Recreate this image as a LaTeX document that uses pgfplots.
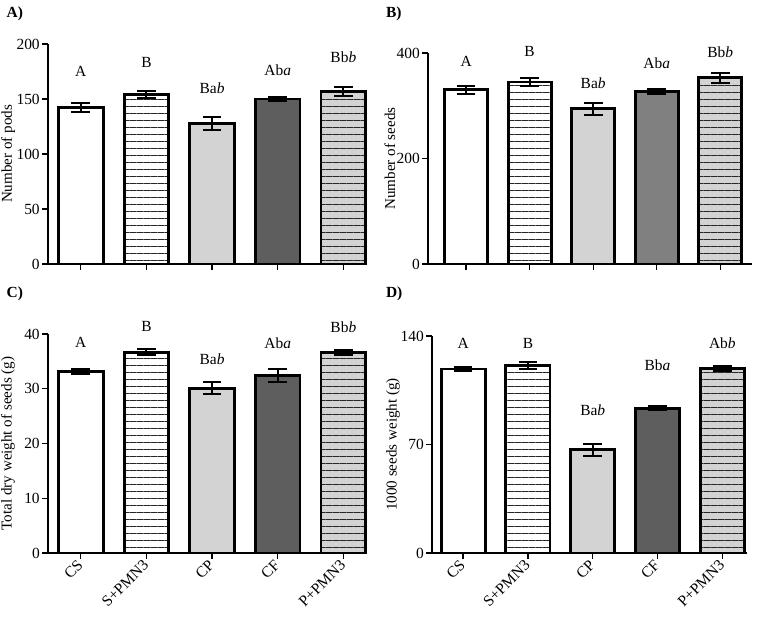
\documentclass[border=0pt]{standalone}
\usepackage{pgfplots}
\pgfplotsset{compat=1.18}
\usepackage{fontspec}
\setmainfont{Liberation Serif}
\usetikzlibrary{patterns.meta}
\definecolor{lg}{HTML}{D3D3D3}
\definecolor{dgA}{HTML}{5E5E5E}
\definecolor{dgB}{HTML}{808080}
\pgfplotsset{
  panel/.style={
    scale only axis, anchor=south west, clip=false,
    ymin=0, axis x line=bottom, axis y line=left,
    axis line style={-, line width=1pt},
    tick style={black, line width=1pt},
    major tick length=4.5pt, tick align=outside,
    xtick={0,1,2,3,4}, xticklabels={},
    /pgf/number format/assume math mode=true,
    ticklabel style={font=\fontsize{11.6}{13}\selectfont},
    yticklabel style={inner sep=1.5pt},
    label style={font=\fontsize{11.3}{13}\selectfont},
    ylabel style={anchor=center},
    xticklabel style={rotate=45, anchor=east, inner sep=2pt, yshift=-1.5pt},
    ybar, bar width=0.68,
  },
  mybar/.style={bar shift=0pt, draw=black, line width=2.2pt,
    /pgfplots/error bars/y dir=both, /pgfplots/error bars/y explicit,
    /pgfplots/error bars/error bar style={line width=1.5pt, black},
    /pgfplots/error bars/error mark options={rotate=90, line width=1.5pt, mark size=7pt, black}},
  hl/.style={postaction={pattern={Lines[angle=0,distance=5.25pt,line width=0.7pt]}, pattern color=black!85}},
}
\begin{document}
\begin{tikzpicture}[font=\fontsize{11.6}{13}\selectfont]
\useasboundingbox (0,0) rectangle (567.75pt,-462.75pt);
% Panel labels
\node[anchor=west, font=\fontsize{11.6}{13}\selectfont\bfseries] at (1.5pt,-10pt) {A)};
\node[anchor=west, font=\fontsize{11.6}{13}\selectfont\bfseries] at (286pt,-10pt) {B)};
\node[anchor=west, font=\fontsize{11.6}{13}\selectfont\bfseries] at (1.5pt,-220pt) {C)};
\node[anchor=west, font=\fontsize{11.6}{13}\selectfont\bfseries] at (286pt,-220pt) {D)};

% Panel A
\begin{axis}[panel, at={(36pt,-198pt)}, width=237.75pt, height=165pt,
  xmin=-0.5, xmax=4.33, ymax=200, ytick={0,50,100,150,200},
  ylabel={Number of pods}, ylabel style={at={(axis description cs:-0.126,0.5)}}]
\addplot[mybar, fill=white] coordinates {(0,142) +- (0,4)};
\addplot[mybar, fill=white, hl] coordinates {(1,154) +- (0,3)};
\addplot[mybar, fill=lg] coordinates {(2,128) +- (0,6)};
\addplot[mybar, fill=dgA] coordinates {(3,150) +- (0,2)};
\addplot[mybar, fill=lg, hl] coordinates {(4,157) +- (0,4)};
\node at (axis cs:0,175.5) {A};
\node at (axis cs:1,183) {B};
\node at (axis cs:2,160) {Ba\textit{b}};
\node at (axis cs:3,176.4) {Ab\textit{a}};
\node at (axis cs:4,188) {Bb\textit{b}};
\end{axis}

% Panel B
\begin{axis}[panel, at={(321pt,-198pt)}, width=243pt, height=158.25pt,
  xmin=-0.6, xmax=4.5, ymax=400, ytick={0,200,400},
  ylabel={Number of seeds}, ylabel style={at={(axis description cs:-0.118,0.5)}}]
\addplot[mybar, fill=white] coordinates {(0,330) +- (0,8)};
\addplot[mybar, fill=white, hl] coordinates {(1,345) +- (0,7)};
\addplot[mybar, fill=lg] coordinates {(2,294) +- (0,12)};
\addplot[mybar, fill=dgB] coordinates {(3,327) +- (0,4)};
\addplot[mybar, fill=lg, hl] coordinates {(4,353) +- (0,9)};
\node at (axis cs:0,385) {A};
\node at (axis cs:1,402) {B};
\node at (axis cs:2,343) {Ba\textit{b}};
\node at (axis cs:3,381) {Ab\textit{a}};
\node at (axis cs:4,402) {Bb\textit{b}};
\end{axis}

% Panel C
\begin{axis}[panel, at={(36pt,-414.75pt)}, width=237.75pt, height=164.25pt,
  xmin=-0.5, xmax=4.33, ymax=40, ytick={0,10,20,30,40},
  xticklabels={CS,S+PMN3,CP,CF,P+PMN3},
  ylabel={Total dry weight of seeds (g)}, ylabel style={at={(axis description cs:-0.126,0.5)}}]
\addplot[mybar, fill=white] coordinates {(0,33.2) +- (0,0.5)};
\addplot[mybar, fill=white, hl] coordinates {(1,36.7) +- (0,0.5)};
\addplot[mybar, fill=lg] coordinates {(2,30.1) +- (0,1.1)};
\addplot[mybar, fill=dgA] coordinates {(3,32.5) +- (0,1.2)};
\addplot[mybar, fill=lg, hl] coordinates {(4,36.6) +- (0,0.5)};
\node at (axis cs:0,38.4) {A};
\node at (axis cs:1,41.3) {B};
\node at (axis cs:2,35.4) {Ba\textit{b}};
\node at (axis cs:3,38.4) {Ab\textit{a}};
\node at (axis cs:4,41.3) {Bb\textit{b}};
\end{axis}

% Panel D
\begin{axis}[panel, at={(324pt,-414.75pt)}, width=236.25pt, height=162.75pt,
  xmin=-0.48, xmax=4.38, ymax=140, ytick={0,70,140},
  xticklabels={CS,S+PMN3,CP,CF,P+PMN3},
  ylabel={1000 seeds weight (g)}, ylabel style={at={(axis description cs:-0.124,0.5)}}]
\addplot[mybar, fill=white] coordinates {(0,118.7) +- (0,1.5)};
\addplot[mybar, fill=white, hl] coordinates {(1,121) +- (0,2)};
\addplot[mybar, fill=lg] coordinates {(2,66.5) +- (0,4)};
\addplot[mybar, fill=dgA] coordinates {(3,93.5) +- (0,1.5)};
\addplot[mybar, fill=lg, hl] coordinates {(4,119.2) +- (0,1.5)};
\node at (axis cs:0,135.5) {A};
\node at (axis cs:1,135.5) {B};
\node at (axis cs:2,92.3) {Ba\textit{b}};
\node at (axis cs:3,121.3) {Bb\textit{a}};
\node at (axis cs:4,135.5) {Ab\textit{b}};
\end{axis}
\end{tikzpicture}
\end{document}
